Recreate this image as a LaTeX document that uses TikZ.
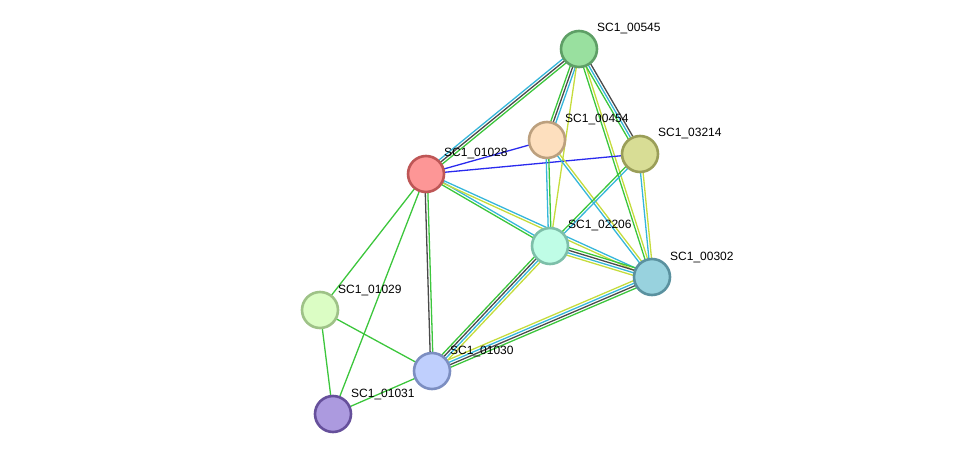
\documentclass[tikz,border=0pt]{standalone}
\usepackage{fontspec}
\setmainfont{Liberation Sans}
\usetikzlibrary{positioning}
\usetikzlibrary{calc}
\usetikzlibrary{backgrounds}
\definecolor{etext}{HTML}{C5DC3C}
\definecolor{edb}{HTML}{35B6DA}
\definecolor{ecoex}{HTML}{4A4A4A}
\definecolor{eneigh}{HTML}{3CC63C}
\definecolor{eblue}{HTML}{2A2AEE}
\definecolor{f00545}{HTML}{99E09F}\definecolor{d00545}{HTML}{5E9F66}
\definecolor{f00454}{HTML}{FDDFBE}\definecolor{d00454}{HTML}{BCA07E}
\definecolor{f03214}{HTML}{D8DD95}\definecolor{d03214}{HTML}{9A9E58}
\definecolor{f01028}{HTML}{FD9696}\definecolor{d01028}{HTML}{BE5656}
\definecolor{f02206}{HTML}{BFFDE6}\definecolor{d02206}{HTML}{7DBFA9}
\definecolor{f00302}{HTML}{98D2DE}\definecolor{d00302}{HTML}{5A919F}
\definecolor{f01029}{HTML}{DBFDC4}\definecolor{d01029}{HTML}{9EC287}
\definecolor{f01030}{HTML}{BFCFFD}\definecolor{d01030}{HTML}{7C8EC1}
\definecolor{f01031}{HTML}{AC9ADF}\definecolor{d01031}{HTML}{66509B}
\newcommand{\pnode}[2]{\node(n#1)[prot,fill=f#1,draw=d#1] at (#2) {}}
\newcommand{\plabel}[1]{\node(l#1)[lbl] at ([xshift=18pt,yshift=20pt]n#1.center) {SC1\_#1}}
\newcommand{\plink}[4]{\foreach \c [count=\i] in {#4} {
    \pgfmathsetmacro{\o}{(\i-(#3+1)/2)*2.6}
    \draw[edge,\c] ($(n#1)!\o pt!90:(n#2)$) -- ($(n#2)!\o pt!-90:(n#1)$);
  }}

\begin{document}
\begin{tikzpicture}[
        x=1pt, y=-1pt,
        every node/.style={font=\fontsize{12}{14}\selectfont},
        prot/.style={circle,minimum size=36pt,inner sep=0pt,line width=2.6pt},
        lbl/.style={anchor=west,inner sep=0pt},
        edge/.style={line width=1.3pt}
      ]
      \useasboundingbox (0,0) rectangle (976,460);
      \pnode{00545}{579,49};
      \pnode{00454}{547,140};
      \pnode{03214}{640,154};
      \pnode{01028}{426,174};
      \pnode{02206}{550,246};
      \pnode{00302}{652,277};
      \pnode{01029}{320,310};
      \pnode{01030}{432,371};
      \pnode{01031}{333,414};
      \plabel{00545};
      \plabel{00454};
      \plabel{03214};
      \plabel{01028};
      \plabel{02206};
      \plabel{00302};
      \plabel{01029};
      \plabel{01030};
      \plabel{01031};
      \begin{pgfonlayer}{background}
        \plink{00545}{01028}{3}{edb,ecoex,eneigh}
        \plink{00545}{00454}{3}{eneigh,ecoex,edb}
        \plink{00545}{02206}{1}{etext}
        \plink{00545}{00302}{2}{eneigh,etext}
        \plink{00545}{03214}{3}{eneigh,edb,ecoex}
        \plink{01028}{00454}{1}{eblue}
        \plink{01028}{03214}{1}{eblue}
        \plink{01028}{02206}{2}{eneigh,edb}
        \plink{01028}{00302}{2}{etext,edb}
        \plink{01028}{01030}{2}{ecoex,eneigh}
        \plink{01028}{01029}{1}{eneigh}
        \plink{01028}{01031}{1}{eneigh}
        \plink{00454}{02206}{2}{edb,eneigh}
        \plink{00454}{00302}{2}{edb,etext}
        \plink{03214}{02206}{2}{eneigh,edb}
        \plink{03214}{00302}{2}{edb,etext}
        \plink{02206}{00302}{4}{etext,edb,ecoex,eneigh}
        \plink{02206}{01030}{4}{eneigh,ecoex,edb,etext}
        \plink{00302}{01030}{4}{etext,edb,ecoex,eneigh}
        \plink{01029}{01030}{1}{eneigh}
        \plink{01029}{01031}{1}{eneigh}
        \plink{01030}{01031}{1}{eneigh}
      \end{pgfonlayer}
    \end{tikzpicture}
\end{document}
